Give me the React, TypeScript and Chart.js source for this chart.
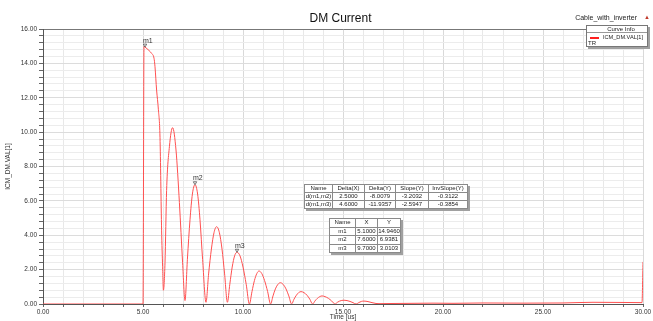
import React, { useEffect, useRef } from "react";
import { Chart, registerables } from "chart.js";
Chart.register(...registerables);

// Time axis (us) and current values
const timeUs = [
  0, 5.0, 5.05, 5.1, 5.3, 5.43, 5.55, 5.6, 5.68, 5.77, 5.85, 5.93, 5.98, 6.02, 6.1, 6.18, 6.32, 6.48, 6.65, 6.82, 6.98,
  7.1, 7.22, 7.35, 7.47, 7.6, 7.73, 7.85, 7.98,
  8.15, 8.28, 8.42, 8.55, 8.68, 8.82, 8.95, 9.08,
  9.22, 9.34, 9.46, 9.58, 9.7, 9.85, 10.0, 10.16,
  10.32, 10.45, 10.57, 10.69, 10.8, 10.94, 11.08, 11.23,
  11.38, 11.5, 11.62, 11.75, 11.87, 12.0, 12.15, 12.29,
  12.43, 12.55, 12.67, 12.78, 12.9, 13.05, 13.2, 13.34,
  13.48, 13.6, 13.72, 13.84, 13.95, 14.1, 14.27, 14.43,
  14.6, 14.72, 14.83, 14.94, 15.05, 15.2, 15.35, 15.5,
  15.65, 15.8, 15.92, 16.05, 16.25, 16.45, 16.65, 16.8,
  17.5, 18.5, 19.5, 20.5, 22, 24, 26, 27.5, 29, 29.95, 30,
];
const currentA = [
  0, 0, 15.0, 14.95, 14.75, 14.58, 14.3, 13.8, 12.45, 11.3, 9.7, 4.3, 2.2, 0.8, 2.4, 6.6, 9.15, 10.26, 8.96, 5.9, 2.4,
  0.2, 2.6, 4.9, 6.4, 6.94, 6.4, 4.9, 2.6,
  0.1, 1.75, 3.2, 4.15, 4.5, 4.15, 3.2, 1.75,
  0.1, 1.15, 2.15, 2.8, 3.01, 2.8, 2.15, 1.15,
  0, 0.73, 1.36, 1.77, 1.92, 1.77, 1.36, 0.73,
  0, 0.47, 0.88, 1.15, 1.24, 1.15, 0.88, 0.47,
  0, 0.28, 0.51, 0.66, 0.72, 0.66, 0.51, 0.28,
  0, 0.18, 0.33, 0.43, 0.47, 0.43, 0.33, 0.18,
  0, 0.1, 0.17, 0.21, 0.22, 0.2, 0.15, 0.08,
  0, 0.09, 0.15, 0.17, 0.14, 0.08, 0.03, 0.02,
  0.03, 0.04, 0.05, 0.04, 0.06, 0.05, 0.06, 0.1, 0.09, 0.08, 2.45,
];

const markerNames = ["m1", "m2", "m3"];
const markerX = [5.1, 7.6, 9.7];
const markerY = [14.946, 6.9381, 3.0103];

const deltaHeader = ["Name", "Delta(X)", "Delta(Y)", "Slope(Y)", "InvSlope(Y)"];
const deltaRows = [
  ["d(m1,m2)", "2.5000", "-8.0079", "-3.2032", "-0.3122"],
  ["d(m1,m3)", "4.6000", "-11.9357", "-2.5947", "-0.3854"],
];
const markerHeader = ["Name", "X", "Y"];

const titleText = "DM Current";
const projectText = "Cable_with_inverter";
const seriesName = "ICM_DM.VAL[1]";
const xTitle = "Time [us]";
const yTitle = "ICM_DM.VAL[1]";

const FONT = "'Liberation Sans', Arial, sans-serif";

function Table(props: { left: number; top: number; widths: number[]; header: string[]; rows: string[][]; rowH: number }) {
  const { left, top, widths, header, rows, rowH } = props;
  const total = widths.reduce((a, b) => a + b, 0);
  const cell = (t: string, i: number, k: string) => (
    <td
      key={k}
      style={{
        width: widths[i],
        height: rowH - 1,
        padding: 0,
        border: "1px solid #8a8a8a",
        textAlign: "center",
        lineHeight: `${rowH - 1}px`,
        whiteSpace: "nowrap",
        overflow: "hidden",
        color: "#222",
      }}
    >
      {t}
    </td>
  );
  return (
    <table
      style={{
        position: "absolute",
        left,
        top,
        width: total,
        borderCollapse: "collapse",
        tableLayout: "fixed",
        fontFamily: FONT,
        fontSize: "6px",
        background: "#fff",
        border: "1px solid #666",
        boxShadow: "2px 2px 0 #a0a0a0",
      }}
    >
      <tbody>
        <tr>{header.map((h, i) => cell(h, i, "h" + i))}</tr>
        {rows.map((r, j) => (
          <tr key={j}>{r.map((c, i) => cell(c, i, j + "-" + i))}</tr>
        ))}
      </tbody>
    </table>
  );
}

export default function App() {
  const ref = useRef<HTMLCanvasElement | null>(null);

  useEffect(() => {
    if (!ref.current) return;
    const points = timeUs.map((t, i) => ({ x: t, y: currentA[i] }));
    const isMult = (v: number, m: number) => Math.abs(v / m - Math.round(v / m)) < 1e-6;

    const markerPlugin = {
      id: "markers",
      afterDatasetsDraw(chart: any) {
        const ctx = chart.ctx;
        const xs = chart.scales.x;
        const ys = chart.scales.y;
        ctx.save();
        markerNames.forEach((n, i) => {
          const px = xs.getPixelForValue(markerX[i]);
          const py = ys.getPixelForValue(markerY[i]);
          ctx.strokeStyle = "#555";
          ctx.lineWidth = 0.8;
          ctx.beginPath();
          ctx.moveTo(px - 1.7, py - 3);
          ctx.lineTo(px + 1.7, py - 3);
          ctx.lineTo(px, py);
          ctx.closePath();
          ctx.stroke();
          ctx.fillStyle = "#333";
          ctx.font = `7px ${FONT}`;
          ctx.textAlign = "left";
          ctx.textBaseline = "alphabetic";
          ctx.fillText(n, px - 2, py - 4.5);
        });
        ctx.restore();
      },
    };

    const chart = new Chart(ref.current, {
      type: "line",
      data: {
        datasets: [
          {
            label: seriesName,
            data: points,
            borderColor: "rgb(255,80,80)",
            borderWidth: 1,
            pointRadius: 0,
            fill: false,
            cubicInterpolationMode: "monotone",
          },
        ],
      },
      options: {
        responsive: false,
        animation: false,
        devicePixelRatio: 1,
        layout: { padding: { top: 29, right: 10, left: 0, bottom: 0 } },
        plugins: { legend: { display: false }, tooltip: { enabled: false }, title: { display: false } },
        scales: {
          x: {
            type: "linear",
            min: 0,
            max: 30,
            afterFit: (s: any) => {
              s.height = 17;
            },
            ticks: {
              stepSize: 1,
              autoSkip: false,
              maxRotation: 0,
              padding: 1,
              color: "#333",
              font: { family: FONT, size: 6.5 },
              callback: (v: any) => (isMult(Number(v), 5) ? Number(v).toFixed(2) : ""),
            },
            grid: {
              color: (c: any) => (c.tick && isMult(c.tick.value, 5) ? "#d9d9d9" : "#e8e8e8"),
              tickLength: 3,
              tickColor: "#666",
              lineWidth: 1,
            },
            border: { color: "#555", width: 1 },
            title: {
              display: true,
              text: xTitle,
              color: "#333",
              font: { family: FONT, size: 6.5 },
              padding: { top: 0, bottom: 0 },
            },
          },
          y: {
            type: "linear",
            min: 0,
            max: 16,
            afterFit: (s: any) => {
              s.width = 43;
            },
            ticks: {
              stepSize: 0.4,
              autoSkip: false,
              padding: 2,
              color: "#333",
              font: { family: FONT, size: 6.5 },
              callback: (v: any) => (isMult(Number(v), 2) ? Number(v).toFixed(2) : ""),
            },
            grid: {
              color: (c: any) =>
                c.tick && Math.abs(c.tick.value - 16) < 1e-6
                  ? "#777"
                  : c.tick && isMult(c.tick.value, 2)
                  ? "#dcdcdc"
                  : "#ececec",
              tickLength: 4,
              tickColor: "#666",
            },
            border: { color: "#555", width: 1 },
            title: {
              display: true,
              text: yTitle,
              color: "#333",
              font: { family: FONT, size: 6.5 },
              padding: { top: 4, bottom: 0 },
            },
          },
        },
      },
      plugins: [markerPlugin],
    } as any);
    return () => chart.destroy();
  }, []);

  const markerRows = markerNames.map((n, i) => [n, markerX[i].toFixed(4), markerY[i].toFixed(4)]);

  return (
    <div style={{ position: "fixed", left: 0, top: 0, width: 653, height: 321, background: "#fff", overflow: "hidden" }}>
      <canvas ref={ref} width={653} height={321} style={{ position: "absolute", left: 0, top: 0 }} />
      <div
        style={{
          position: "absolute",
          left: 0,
          top: 11,
          width: 681,
          textAlign: "center",
          fontFamily: FONT,
          fontSize: "12px",
          color: "#111",
          lineHeight: "14px",
        }}
      >
        {titleText}
      </div>
      <div
        style={{
          position: "absolute",
          right: 16,
          top: 13,
          fontFamily: FONT,
          fontSize: "7px",
          color: "#222",
          lineHeight: "9px",
          whiteSpace: "nowrap",
        }}
      >
        {projectText}
      </div>
      <div
        style={{
          position: "absolute",
          left: 644,
          top: 13,
          fontFamily: FONT,
          fontSize: "6px",
          color: "#c0392b",
          lineHeight: "9px",
        }}
      >
        ▲
      </div>
      <div
        style={{
          position: "absolute",
          left: 586,
          top: 25,
          width: 60,
          height: 20,
          border: "1px solid #777",
          background: "#fff",
          boxShadow: "2px 2px 0 #a0a0a0",
          fontFamily: FONT,
          fontSize: "6px",
          color: "#222",
          lineHeight: "6px",
        }}
      >
        <div style={{ textAlign: "center", height: 6, borderBottom: "1px solid #999", paddingLeft: 8 }}>Curve Info</div>
        <div style={{ position: "relative", height: 7 }}>
          <div style={{ position: "absolute", left: 3, top: 4, width: 9, height: 2, background: "#ff2020" }} />
          <div style={{ position: "absolute", left: 16, top: 1, whiteSpace: "nowrap", fontSize: "5.6px" }}>{seriesName}</div>
        </div>
        <div style={{ marginLeft: 1 }}>TR</div>
      </div>
      <Table left={304} top={184} widths={[27, 31, 30, 32, 38]} header={deltaHeader} rows={deltaRows} rowH={8} />
      <Table left={329} top={218} widths={[25, 21, 22]} header={markerHeader} rows={markerRows} rowH={8.5} />
    </div>
  );
}
